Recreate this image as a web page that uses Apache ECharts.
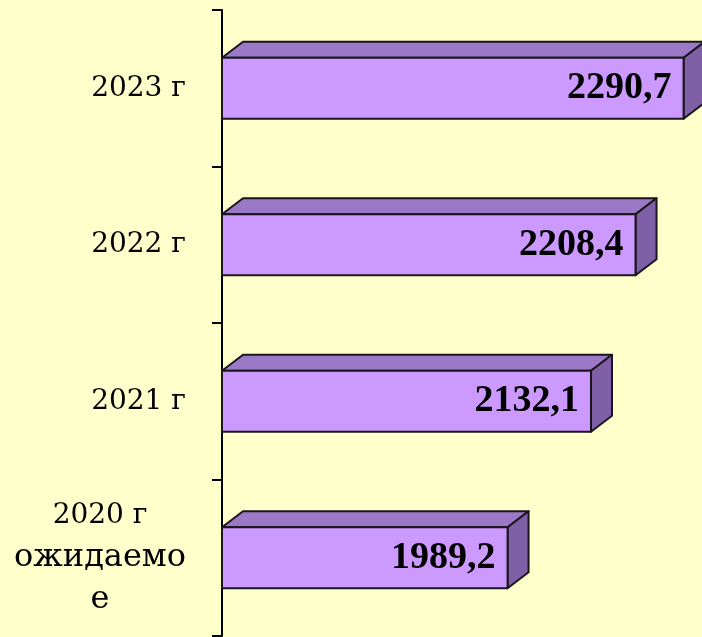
<!DOCTYPE html>
<html>
<head>
<meta charset="utf-8">
<script src="https://cdn.jsdelivr.net/npm/echarts@6/dist/echarts.min.js"></script>
<style>
  html, body { margin: 0; padding: 0; background: #FFFFCC; }
  #chart { width: 702px; height: 637px; }
</style>
</head>
<body>
<div id="chart"></div>
<script>
// Categories (bottom to top) and values
const categories = ['2020 г\nожидаемо\nе', '2021 г', '2022 г', '2023 г'];
const values = [1989.2, 2132.1, 2208.4, 2290.7];
const axisMin = 1500;
const axisMax = 2300;

// 3D bar look
const DX = 21, DY = 16;
const FRONT = '#CC99FF', TOP = '#9B79C6', SIDE = '#7F60A6', EDGE = '#1A161E';

function fmt(v) {
  return v.toFixed(1).replace('.', ',');
}

function renderBar(params, api) {
  const idx = api.value(1);
  const v = api.value(0);
  const end = api.coord([v, idx]);
  const start = api.coord([axisMin, idx]);
  const band = api.size([0, 1])[1];
  const h = band * 0.39;
  const x0 = start[0], x1 = end[0];
  const yT = end[1] - h / 2, yB = end[1] + h / 2;
  const edge = { stroke: EDGE, lineWidth: 2, lineJoin: 'round' };
  return {
    type: 'group',
    children: [
      {
        type: 'polygon',
        shape: { points: [[x0, yT], [x0 + DX, yT - DY], [x1 + DX, yT - DY], [x1, yT]] },
        style: Object.assign({ fill: TOP }, edge)
      },
      {
        type: 'polygon',
        shape: { points: [[x1, yT], [x1 + DX, yT - DY], [x1 + DX, yB - DY], [x1, yB]] },
        style: Object.assign({ fill: SIDE }, edge)
      },
      {
        type: 'rect',
        shape: { x: x0, y: yT, width: x1 - x0, height: h },
        style: Object.assign({ fill: FRONT }, edge)
      },
      {
        type: 'text',
        style: {
          text: fmt(v),
          x: x1 - 12,
          y: end[1],
          align: 'right',
          verticalAlign: 'middle',
          font: 'bold 38px "Liberation Serif", "Times New Roman", serif',
          fill: '#000'
        }
      }
    ]
  };
}

const chart = echarts.init(document.getElementById('chart'), null, { renderer: 'canvas' });

chart.setOption({
  backgroundColor: '#FFFFCC',
  animation: false,
  grid: { left: 222, top: 10, width: 467, height: 626 },
  xAxis: {
    type: 'value',
    min: axisMin,
    max: axisMax,
    show: false
  },
  yAxis: {
    type: 'category',
    data: categories,
    axisLine: { show: true, lineStyle: { color: '#000', width: 2 } },
    axisTick: { show: true, length: 10, lineStyle: { color: '#000', width: 2 } },
    splitLine: { show: false },
    axisLabel: {
      margin: 36,
      color: '#000',
      formatter: function (val) {
        return val.split('\n').map(function (line, i) {
          return (i === 0 ? '{yr|' : '{big|') + line + '}';
        }).join('\n');
      },
      rich: {
        yr: {
          fontFamily: '"DejaVu Serif", serif',
          fontSize: 28,
          lineHeight: 42,
          align: 'center',
          color: '#000'
        },
        big: {
          fontFamily: '"DejaVu Serif", serif',
          fontSize: 32,
          lineHeight: 42,
          align: 'center',
          color: '#000'
        }
      }
    }
  },
  series: [{
    type: 'custom',
    renderItem: renderBar,
    clip: false,
    encode: { x: 0, y: 1 },
    data: values.map(function (v, i) { return [v, i]; })
  }]
});
</script>
</body>
</html>
